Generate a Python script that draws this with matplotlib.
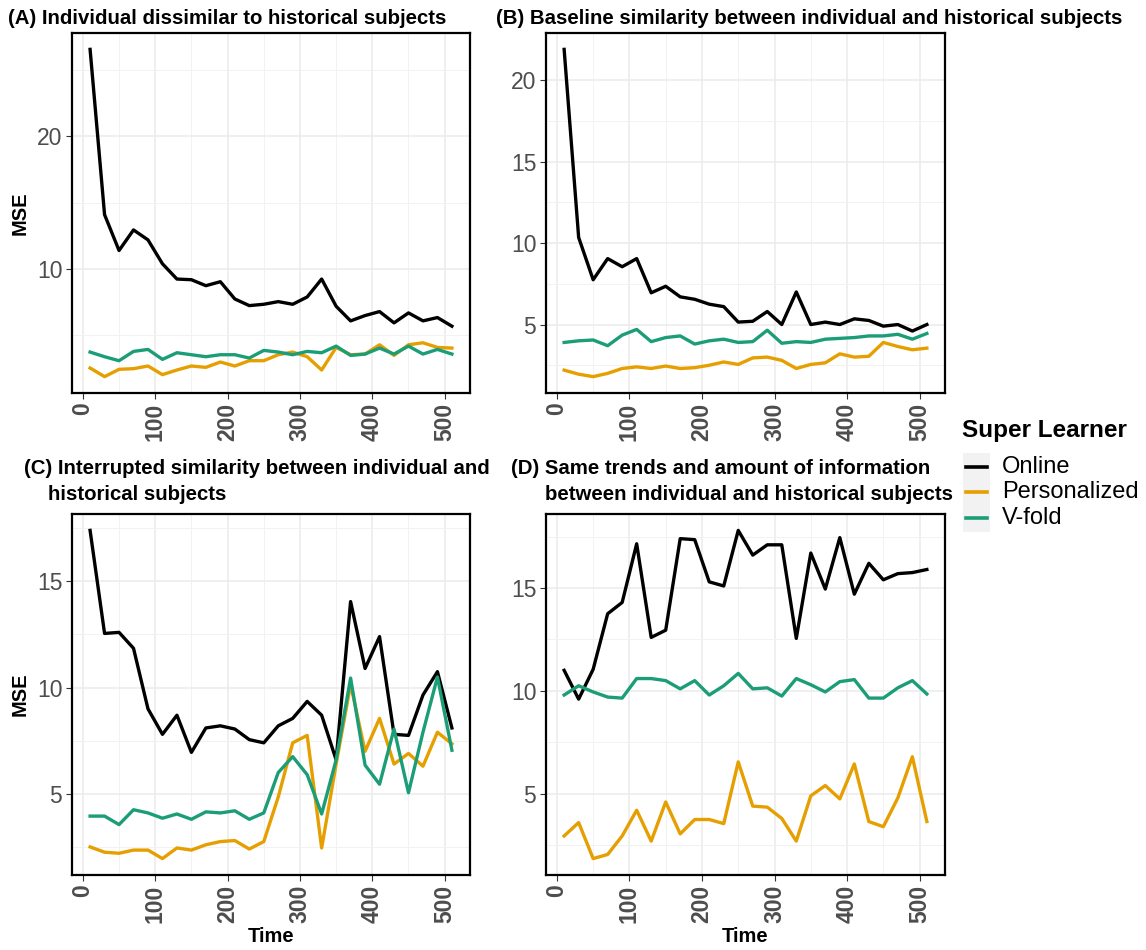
import numpy as np
import matplotlib
matplotlib.use("Agg")
import matplotlib.pyplot as plt
from matplotlib.lines import Line2D
from matplotlib.patches import Rectangle

plt.rcParams['font.family'] = ['Liberation Sans', 'DejaVu Sans']

# ---- data -------------------------------------------------------------
time = np.arange(10, 511, 20)

online_a = [26.55, 14.1, 11.4, 12.95, 12.2, 10.4, 9.25, 9.2, 8.75, 9.05, 7.75, 7.25, 7.35,
            7.55, 7.35, 7.9, 9.25, 7.2, 6.1, 6.5, 6.8, 5.95, 6.7, 6.1, 6.35, 5.7]
personal_a = [2.55, 1.9, 2.45, 2.5, 2.7, 2.05, 2.4, 2.7, 2.6, 3.0, 2.7, 3.1, 3.1,
              3.55, 3.75, 3.4, 2.4, 4.1, 3.55, 3.6, 4.3, 3.5, 4.3, 4.45, 4.1, 4.05]
vfold_a = [3.75, 3.4, 3.1, 3.8, 3.95, 3.2, 3.7, 3.55, 3.4, 3.55, 3.55, 3.3, 3.875,
           3.75, 3.55, 3.8, 3.7, 4.2, 3.5, 3.6, 4.05, 3.6, 4.2, 3.6, 3.95, 3.6]

online_b = [21.9, 10.35, 7.75, 9.05, 8.55, 9.05, 6.95, 7.35, 6.7, 6.55, 6.25, 6.1, 5.15,
            5.2, 5.8, 5.0, 7.0, 5.0, 5.15, 5.0, 5.35, 5.25, 4.9, 5.0, 4.6, 5.0]
personal_b = [2.2, 1.95, 1.8, 2.0, 2.3, 2.4, 2.3, 2.45, 2.3, 2.35, 2.5, 2.7, 2.55,
              2.95, 3.0, 2.8, 2.3, 2.55, 2.65, 3.2, 3.0, 3.05, 3.9, 3.65, 3.45, 3.55]
vfold_b = [3.9, 4.0, 4.05, 3.7, 4.35, 4.7, 3.95, 4.2, 4.3, 3.8, 4.0, 4.1, 3.9,
           3.95, 4.65, 3.85, 3.95, 3.9, 4.1, 4.15, 4.2, 4.3, 4.3, 4.4, 4.1, 4.45]

online_c = [17.4, 12.55, 12.6, 11.85, 9.0, 7.8, 8.7, 6.95, 8.1, 8.2, 8.05, 7.55, 7.4,
            8.2, 8.55, 9.35, 8.7, 6.6, 14.05, 10.9, 12.4, 7.8, 7.75, 9.65, 10.75, 8.1]
personal_c = [2.5, 2.25, 2.2, 2.35, 2.35, 1.95, 2.45, 2.35, 2.6, 2.75, 2.8, 2.4, 2.75,
              4.85, 7.4, 7.75, 2.45, 6.4, 10.15, 7.0, 8.55, 6.4, 6.9, 6.3, 7.9, 7.35]
vfold_c = [3.95, 3.95, 3.55, 4.25, 4.1, 3.85, 4.05, 3.8, 4.15, 4.1, 4.2, 3.8, 4.1,
           6.0, 6.75, 5.9, 4.05, 6.6, 10.45, 6.35, 5.45, 8.05, 5.05, 7.9, 10.5, 7.05]

online_d = [11.0, 9.6, 11.05, 13.75, 14.3, 17.15, 12.6, 12.95, 17.4, 17.35, 15.3, 15.1, 17.8,
            16.6, 17.1, 17.1, 12.55, 16.7, 14.95, 17.45, 14.7, 16.2, 15.4, 15.7, 15.75, 15.9]
personal_d = [2.95, 3.6, 1.85, 2.05, 2.95, 4.2, 2.7, 4.6, 3.05, 3.75, 3.75, 3.55, 6.55,
              4.4, 4.35, 3.8, 2.7, 4.9, 5.4, 4.75, 6.45, 3.65, 3.4, 4.8, 6.8, 3.65]
vfold_d = [9.8, 10.25, 9.95, 9.7, 9.65, 10.6, 10.6, 10.5, 10.1, 10.5, 9.8, 10.25, 10.85,
           10.1, 10.15, 9.75, 10.6, 10.3, 9.95, 10.45, 10.55, 9.65, 9.65, 10.15, 10.5, 9.85]

learners = ["Online", "Personalized", "V-fold"]
colors = ["#000000", "#E69F00", "#1B9E77"]

panels = [
    (online_a, personal_a, vfold_a, [10, 20], [5, 15, 25]),
    (online_b, personal_b, vfold_b, [5, 10, 15, 20], [2.5, 7.5, 12.5, 17.5]),
    (online_c, personal_c, vfold_c, [5, 10, 15], [2.5, 7.5, 12.5, 17.5]),
    (online_d, personal_d, vfold_d, [5, 10, 15], [2.5, 7.5, 12.5, 17.5]),
]
x_major = [0, 100, 200, 300, 400, 500]
x_minor = [50, 150, 250, 350, 450]

# ---- layout (pixels) --------------------------------------------------
W, H = 1146, 950
fig = plt.figure(figsize=(W / 100, H / 100), dpi=100)
fig.patch.set_facecolor("white")


def px_axes(left, top, right, bottom):
    return fig.add_axes([left / W, 1 - bottom / H, (right - left) / W, (bottom - top) / H])


boxes = [(72, 33, 470, 393), (546, 33, 945, 393),
         (72, 514, 470, 875), (546, 514, 945, 875)]

tick_grey = "#4D4D4D"
for (left, top, right, bottom), (on, pe, vf, ymaj, ymin) in zip(boxes, panels):
    ax = px_axes(left, top, right, bottom)
    for series, col in zip([on, pe, vf], colors):
        ax.plot(time, series, color=col, lw=2.4, solid_joinstyle="round", zorder=3)
    ax.margins(x=0.05, y=0.05)
    ax.set_xticks(x_major)
    ax.set_xticks(x_minor, minor=True)
    ax.set_yticks(ymaj)
    ax.set_yticks(ymin, minor=True)
    ax.grid(True, which="major", color="#EBEBEB", lw=1.1, zorder=0)
    ax.grid(True, which="minor", color="#F2F2F2", lw=0.7, zorder=0)
    ax.set_axisbelow(True)
    ax.tick_params(which="minor", length=0)
    ax.tick_params(which="major", length=4, width=0.8, color="#333333", labelcolor=tick_grey)
    ax.tick_params(axis="y", labelsize=16.5, pad=3)
    ax.tick_params(axis="x", labelsize=16.5, pad=3, labelrotation=90)
    for lab in ax.get_xticklabels():
        lab.set_fontweight("bold")
    for sp in ax.spines.values():
        sp.set_linewidth(1.6)
        sp.set_color("black")

# ---- titles -----------------------------------------------------------
tkw = dict(fontsize=14.7, fontweight="bold", ha="left", va="center")
fig.text(8 / W, 1 - 18 / H, "(A) Individual dissimilar to historical subjects", **tkw)
fig.text(496 / W, 1 - 18 / H, "(B) Baseline similarity between individual and historical subjects", **tkw)
fig.text(24 / W, 1 - 469 / H, "(C) Interrupted similarity between individual and", **tkw)
fig.text(48 / W, 1 - 495 / H, "historical subjects", **tkw)
fig.text(511 / W, 1 - 469 / H, "(D) Same trends and amount of information", **tkw)
fig.text(545 / W, 1 - 495 / H, "between individual and historical subjects", **tkw)

# axis titles
akw = dict(fontsize=14.5, fontweight="bold")
fig.text(20 / W, 1 - 213 / H, "MSE", rotation=90, ha="center", va="center", **akw)
fig.text(20 / W, 1 - 694 / H, "MSE", rotation=90, ha="center", va="center", **akw)
fig.text(271 / W, 1 - 937 / H, "Time", ha="center", va="center", **akw)
fig.text(745 / W, 1 - 937 / H, "Time", ha="center", va="center", **akw)

# ---- legend -----------------------------------------------------------
fig.text(962 / W, 1 - 430 / H, "Super Learner", fontsize=17.5, fontweight="bold",
         ha="left", va="center")
fig.patches.append(Rectangle((963 / W, 1 - 532 / H), 27 / W, 79 / H,
                             transform=fig.transFigure, facecolor="#F2F2F2",
                             edgecolor="none", zorder=1))
for yy, name, col in zip([467, 492, 518], learners, colors):
    fig.add_artist(Line2D([966 / W, 987 / W], [1 - yy / H, 1 - yy / H],
                          transform=fig.transFigure, color=col, lw=2.6, zorder=2))
    fig.text(1002 / W, 1 - yy / H, name, fontsize=17, ha="left", va="center")

fig.savefig("out.png", dpi=100)
